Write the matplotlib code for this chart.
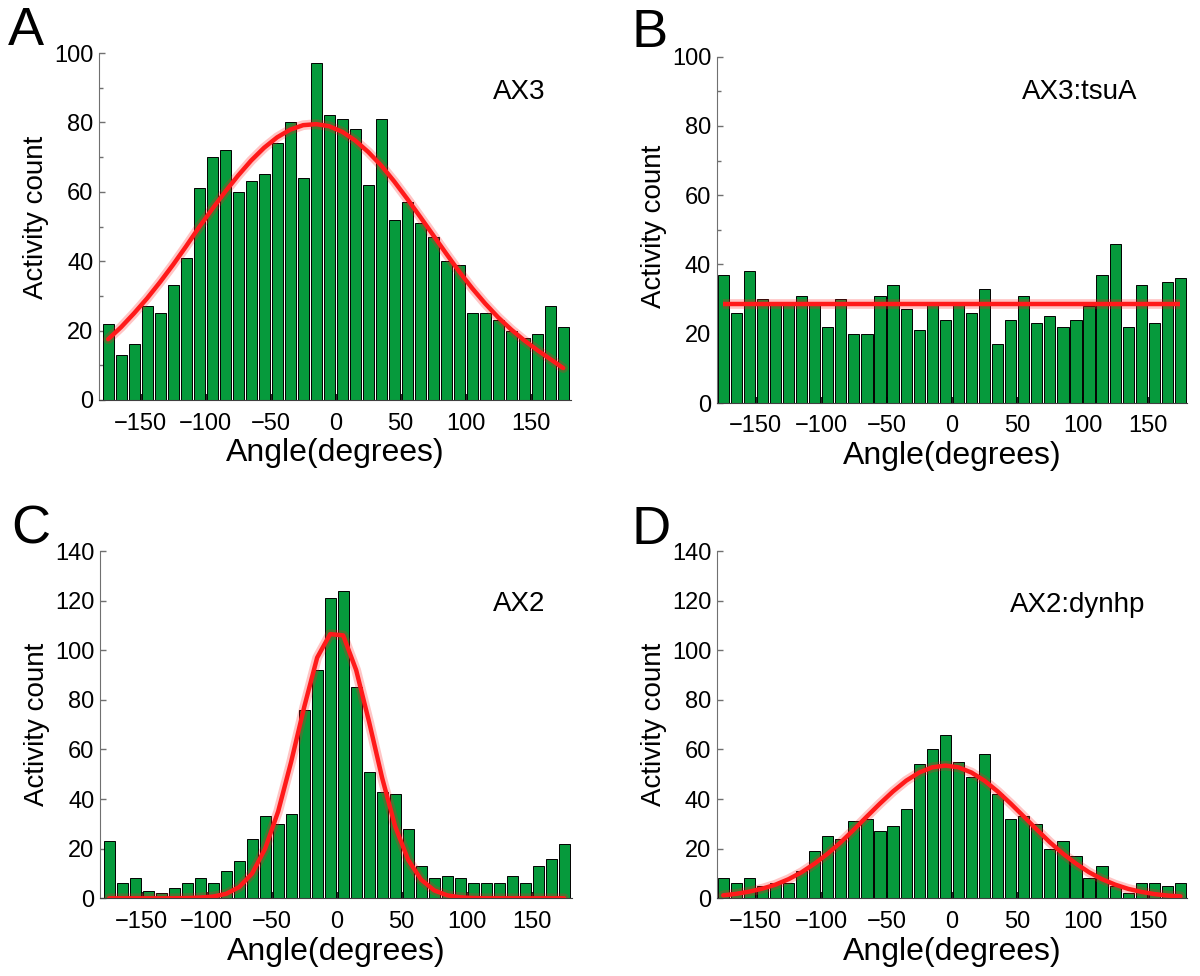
import matplotlib
matplotlib.use('Agg')
import matplotlib.pyplot as plt
from matplotlib.ticker import MultipleLocator

plt.rcParams['font.family'] = ['Liberation Sans', 'DejaVu Sans']

# bin centres (degrees)
angles = list(range(-175, 180, 10))

# A: AX3
ax3_counts = [22, 13, 16, 27, 25, 33, 41, 61, 70, 72, 60, 63, 65, 74, 80, 64, 97, 82,
              81, 78, 62, 81, 52, 57, 51, 47, 40, 39, 25, 25, 23, 20, 18, 19, 27, 21]
ax3_fit = [17.5, 21.0, 25.0, 29.3, 34.0, 39.0, 44.3, 49.8, 55.0, 60.0, 64.7, 69.0, 72.7, 75.7,
           77.9, 79.2, 79.5, 78.9, 77.3, 74.8, 71.5, 67.6, 63.0, 58.0, 52.8, 47.5, 42.2, 37.0,
           32.2, 27.8, 23.8, 20.3, 17.2, 14.4, 11.8, 9.2]

# B: AX3:tsuA
tsua_counts = [37, 26, 38, 30, 29, 29, 31, 29, 22, 30, 20, 20, 31, 34, 27, 21, 29, 24,
               29, 26, 33, 17, 24, 31, 23, 25, 22, 24, 28, 37, 46, 22, 34, 23, 35, 36]
tsua_level = 28.6

# C: AX2
ax2_counts = [23, 6, 8, 3, 2, 4, 6, 8, 6, 11, 15, 24, 33, 30, 34, 76, 92, 121,
              124, 85, 51, 43, 42, 28, 13, 8, 9, 8, 6, 6, 6, 9, 6, 13, 16, 22]
ax2_fit = [0, 0, 0, 0, 0, 0, 0.1, 0.3, 0.7, 1.8, 4.5, 10, 20, 35, 55, 77, 97, 106.5,
           106, 92, 71, 48.5, 29, 15.5, 7.5, 3.2, 1.2, 0.4, 0.1, 0, 0, 0, 0, 0, 0, 0]

# D: AX2:dynhp
dynhp_counts = [8, 6, 8, 5, 6, 6, 11, 19, 25, 24, 31, 32, 27, 29, 36, 54, 60, 66,
                55, 49, 58, 42, 32, 33, 30, 20, 23, 17, 8, 13, 5, 2, 6, 6, 5, 6]
dynhp_fit = [1.2, 1.8, 2.7, 3.9, 5.5, 7.7, 10.5, 14.0, 18.0, 22.6, 27.7, 33.0, 38.2, 43.1,
             47.4, 50.7, 52.8, 53.5, 52.8, 50.7, 47.4, 43.1, 38.2, 33.0, 27.7, 22.6, 18.0,
             14.0, 10.5, 7.7, 5.5, 3.8, 2.6, 1.7, 1.1, 0.8]

green = '#069a3c'
red = '#ff1a1a'
W, H = 1200, 976

fig = plt.figure(figsize=(12, 9.76), dpi=100)


def add_panel(box, counts, fit, xlim, ymax, minor, ylab_y):
    x0, y0, x1, y1 = box
    ax = fig.add_axes([x0 / W, 1 - y1 / H, (x1 - x0) / W, (y1 - y0) / H])
    ax.bar(angles, counts, width=8.6, color=green, edgecolor='black', linewidth=0.7, zorder=2)
    if isinstance(fit, list):
        ax.plot(angles, fit, color=red, lw=7, alpha=0.25, zorder=3, solid_capstyle='round')
        ax.plot(angles, fit, color=red, lw=3.2, zorder=4, solid_capstyle='round')
    else:
        ax.hlines(fit, angles[0], angles[-1], color=red, lw=7, alpha=0.25, zorder=3)
        ax.hlines(fit, angles[0], angles[-1], color=red, lw=3.2, zorder=4)
    ax.set_xlim(*xlim)
    ax.set_ylim(0, ymax)
    ax.set_xticks([-150, -100, -50, 0, 50, 100, 150])
    ax.yaxis.set_major_locator(MultipleLocator(20))
    if minor:
        ax.yaxis.set_minor_locator(MultipleLocator(10))
    for s in ['top', 'right']:
        ax.spines[s].set_visible(False)
    ax.spines['left'].set_color('#707070')
    ax.spines['bottom'].set_color('#404040')
    ax.tick_params(axis='x', direction='in', length=4, width=1.2, color='black',
                   labelsize=17, pad=9)
    ax.tick_params(axis='y', which='both', direction='in', length=4, width=1,
                   color='#707070', labelsize=17, pad=4)
    ax.tick_params(axis='y', which='minor', length=3)
    ax.set_xlabel('Angle(degrees)', fontsize=23)
    ax.xaxis.set_label_coords(0.5, -0.11)
    ax.set_ylabel('Activity count', fontsize=20)
    ax.yaxis.set_label_coords(-50 / (x1 - x0), ylab_y)
    return ax


add_panel((99, 53, 571, 400), ax3_counts, ax3_fit, (-182, 181), 100, True, 0.526)
add_panel((716.7, 56.7, 1187, 403), tsua_counts, tsua_level, (-180, 180), 100, True, 0.509)
add_panel((100, 551, 572, 898.3), ax2_counts, ax2_fit, (-182, 181), 140, False, 0.502)
add_panel((716.7, 551, 1187, 898.3), dynhp_counts, dynhp_fit, (-180, 180), 140, False, 0.502)

# panel letters
for letter, x, y in [('A', 8, 6), ('B', 631, 8), ('C', 11, 505), ('D', 631, 505)]:
    fig.text(x / W, 1 - y / H, letter, fontsize=39, va='top', ha='left')

# strain names
for name, x, y in [('AX3', 493, 79), ('AX3:tsuA', 1022, 79),
                   ('AX2', 493, 591), ('AX2:dynhp', 1010, 592)]:
    fig.text(x / W, 1 - y / H, name, fontsize=20, va='top', ha='left')

plt.savefig('out.png', dpi=100)
